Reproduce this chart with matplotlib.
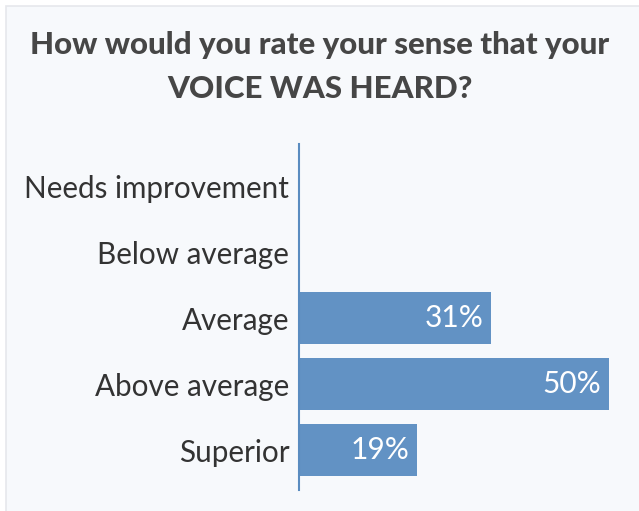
import matplotlib
matplotlib.use("Agg")
import matplotlib.pyplot as plt
from matplotlib.patches import Rectangle

categories = ["Needs improvement", "Below average", "Average", "Above average", "Superior"]
values = [0, 0, 31, 50, 19]
value_labels = ["", "", "31%", "50%", "19%"]
title_line1 = "How would you rate your sense that your"
title_line2 = "VOICE WAS HEARD?"

plt.rcParams['font.family'] = ['Lato', 'DejaVu Sans']

W, H = 639, 511
fig = plt.figure(figsize=(W / 100, H / 100), dpi=100)
fig.patch.set_facecolor("white")

# light panel behind everything
fig.patches.append(Rectangle((6 / W, -0.1), 1.1, 1 - 6 / H + 0.1, transform=fig.transFigure,
                             facecolor="#f7f9fc", edgecolor="#e6e8ec", linewidth=1.2, zorder=-5))

fig.text(0.5, 1 - 45 / H, title_line1, ha="center", va="center", fontsize=22.5,
         fontweight="black", color="#464646")
fig.text(0.5, 1 - 89 / H, title_line2, ha="center", va="center", fontsize=22.5,
         fontweight="black", color="#464646")

left = 299 / W
bottom = (H - 490) / H
top = (H - 144) / H
ax = fig.add_axes([left, bottom, (W - 5) / W - left, top - bottom])
ax.patch.set_alpha(0)

y = list(range(len(categories)))
bars = ax.barh(y, values, height=0.79, color="#6292c4")
for b, lab in zip(bars, value_labels):
    if lab:
        ax.text(b.get_width() - 1.2, b.get_y() + b.get_height() / 2, lab, ha="right", va="center",
                color="white", fontsize=21.5)

ax.set_yticks(y)
ax.set_yticklabels(categories, fontsize=21.3, color="#333333")
ax.tick_params(axis="y", length=0, pad=7)
ax.set_xticks([])
ax.set_xlim(0, (W - 5 - 299) / 6.2)
ax.set_ylim(4.6, -0.64)
for s in ["top", "right", "bottom"]:
    ax.spines[s].set_visible(False)
ax.spines["left"].set_color("#5a8cc0")
ax.spines["left"].set_linewidth(1.5)

fig.savefig("out.png", dpi=100)
